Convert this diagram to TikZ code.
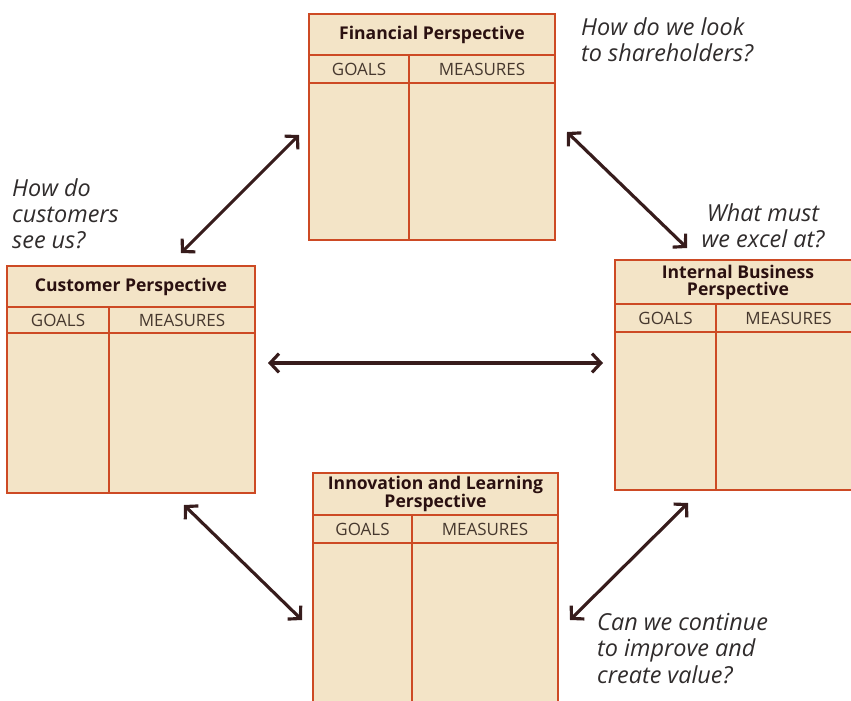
\documentclass[tikz,border=0pt]{standalone}
\usepackage{fontspec}
\setmainfont{Open Sans}
\usetikzlibrary{arrows.meta,positioning}

\definecolor{boxfill}{RGB}{243,228,199}
\definecolor{boxline}{RGB}{205,74,36}
\definecolor{arrowcol}{RGB}{55,28,28}
\definecolor{titletext}{RGB}{42,16,16}
\definecolor{headtext}{RGB}{70,56,46}
\definecolor{asktext}{RGB}{48,44,44}

\tikzset{
  cell/.style={rectangle,draw=boxline,fill=boxfill,line width=1.4pt,inner sep=0pt,outer sep=0pt,anchor=north west},
  titlecell/.style={cell,font=\fontsize{15}{14.5}\selectfont\bfseries,text=titletext,align=center},
  headcell/.style={cell,font=\fontsize{14.5}{15}\selectfont,text=headtext},
  ask/.style={font=\fontsize{20}{22.5}\selectfont\itshape,text=asktext,inner sep=0pt},
  link/.style={draw=arrowcol,line width=2.7pt,{Straight Barb[length=7.5pt,width=16pt]}-{Straight Barb[length=7.5pt,width=16pt]}}
}

\begin{document}
\begin{tikzpicture}[x=0.03cm,y=-0.03cm]
\useasboundingbox (0,0) rectangle (851,700);

% financial box
\node[titlecell, minimum width=7.38cm, minimum height=1.23cm, name=fin] at (309,14) {Financial Perspective};
\node[headcell, minimum width=3cm, minimum height=0.84cm, name=fin_goals] at (fin.south west) {GOALS};
\node[headcell, minimum width=4.38cm, minimum height=0.84cm, name=fin_meas] at (fin_goals.north east) {MEASURES};
\node[cell, minimum width=3cm, minimum height=4.71cm, name=fin_gcol] at (fin_goals.south west) {};
\node[cell, minimum width=4.38cm, minimum height=4.71cm, name=fin_mcol] at (fin_meas.south west) {};

% customer box
\node[titlecell, minimum width=7.44cm, minimum height=1.23cm, name=cust] at (7,266) {Customer Perspective};
\node[headcell, minimum width=3.06cm, minimum height=0.78cm, name=cust_goals] at (cust.south west) {GOALS};
\node[headcell, minimum width=4.38cm, minimum height=0.78cm, name=cust_meas] at (cust_goals.north east) {MEASURES};
\node[cell, minimum width=3.06cm, minimum height=4.8cm, name=cust_gcol] at (cust_goals.south west) {};
\node[cell, minimum width=4.38cm, minimum height=4.8cm, name=cust_mcol] at (cust_meas.south west) {};

% internal business box
\node[titlecell, minimum width=7.38cm, minimum height=1.32cm, name=intb] at (615,260) {Internal Business\\Perspective};
\node[headcell, minimum width=3.03cm, minimum height=0.84cm, name=intb_goals] at (intb.south west) {GOALS};
\node[headcell, minimum width=4.35cm, minimum height=0.84cm, name=intb_meas] at (intb_goals.north east) {MEASURES};
\node[cell, minimum width=3.03cm, minimum height=4.74cm, name=intb_gcol] at (intb_goals.south west) {};
\node[cell, minimum width=4.35cm, minimum height=4.74cm, name=intb_mcol] at (intb_meas.south west) {};

% innovation box
\node[titlecell, minimum width=7.35cm, minimum height=1.26cm, name=innov] at (313,473) {Innovation and Learning\\Perspective};
\node[headcell, minimum width=2.97cm, minimum height=0.84cm, name=innov_goals] at (innov.south west) {GOALS};
\node[headcell, minimum width=4.38cm, minimum height=0.84cm, name=innov_meas] at (innov_goals.north east) {MEASURES};
\node[cell, minimum width=2.97cm, minimum height=5.1cm, name=innov_gcol] at (innov_goals.south west) {};
\node[cell, minimum width=4.38cm, minimum height=5.1cm, name=innov_mcol] at (innov_meas.south west) {};

% questions
\node[ask, anchor=north west, align=left, name=q_fin] at (581,17) {How do we look\\to shareholders?};
\node[ask, anchor=north west, align=left, name=q_cust] at (12,178) {How do\\customers\\see us?};
\node[ask, align=center, name=q_intb] at (763,226) {What must\\we excel at?};
\node[ask, anchor=north west, align=left, name=q_innov] at (597,613) {Can we continue\\to improve and\\create value?};

% arrow ends
\coordinate (fc_a) at (299,135);
\coordinate (fc_b) at (181,253);
\coordinate (fi_a) at (567,132);
\coordinate (fi_b) at (687,248);
\coordinate (ci_a) at (268,363);
\coordinate (ci_b) at (603,363);
\coordinate (cn_a) at (184,505);
\coordinate (cn_b) at (302,620);
\coordinate (in_a) at (688,503);
\coordinate (in_b) at (570,620);

% arrows
\draw[link] (fc_a) -- (fc_b);
\draw[link] (fi_a) -- (fi_b);
\draw[link] (ci_a) -- (ci_b);
\draw[link] (cn_a) -- (cn_b);
\draw[link] (in_a) -- (in_b);
\end{tikzpicture}
\end{document}
